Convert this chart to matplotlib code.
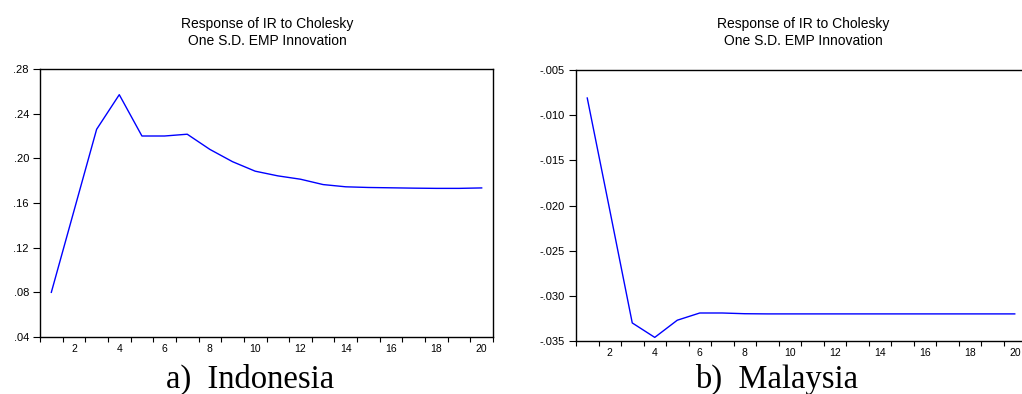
import matplotlib.pyplot as plt
import numpy as np
from matplotlib.ticker import FuncFormatter

periods = list(range(1, 21))
indonesia = [0.080, 0.153, 0.226, 0.257, 0.220, 0.220, 0.2216, 0.208, 0.197, 0.1885,
             0.1843, 0.1813, 0.1765, 0.1745, 0.1739, 0.1736, 0.1733, 0.1731, 0.1731, 0.1735]
malaysia = [-0.0081, -0.0205, -0.0330, -0.0346, -0.0327, -0.0319, -0.0319, -0.03198, -0.0320, -0.0320,
            -0.0320, -0.0320, -0.0320, -0.0320, -0.0320, -0.0320, -0.0320, -0.0320, -0.0320, -0.0320]
title_lines = ['Response of IR to Cholesky', 'One S.D. EMP Innovation']
captions = ['a)  Indonesia', 'b)  Malaysia']

plt.rcParams['font.family'] = ['Liberation Sans', 'DejaVu Sans']

W, H = 1022, 394
fig = plt.figure(figsize=(W/100, H/100), dpi=100)

def nolead(v, nd):
    return f'{v:.{nd}f}'.replace('0.', '.', 1)

def panel(rect, y, ylim, yticks, nd, title_x, caption, cap_x):
    l, t, r, b = rect
    ax = fig.add_axes([l/W, 1-b/H, (r-l)/W, (b-t)/H])
    ax.plot(periods, y, color='#0000ff', lw=1)
    ax.set_xlim(0.5, 20.5)
    ax.set_ylim(*ylim)
    ax.set_yticks(yticks)
    ax.yaxis.set_major_formatter(FuncFormatter(lambda v, p: nolead(v, nd)))
    # eviews style: ticks between periods, labels on even periods
    ax.set_xticks(np.arange(0.5, 21, 1))
    ax.set_xticklabels([])
    ax.set_xticks(range(2, 21, 2), minor=True)
    ax.set_xticklabels([str(i) for i in range(2, 21, 2)], minor=True)
    ax.tick_params(axis='x', which='major', length=3.5, width=0.8, direction='out')
    ax.tick_params(axis='x', which='minor', length=0, labelsize=7.5, pad=5)
    ax.tick_params(axis='y', length=5, width=0.8, labelsize=8, pad=3)
    for s in ax.spines.values():
        s.set_linewidth(1)
    fig.text(title_x/W, 1-28/H, title_lines[0], ha='center', va='baseline', fontsize=10)
    fig.text(title_x/W, 1-45/H, title_lines[1], ha='center', va='baseline', fontsize=10)
    fig.text(cap_x/W, 1-388/H, caption, ha='center', va='baseline',
             fontsize=23.5, family=['Liberation Serif', 'DejaVu Serif'])
    return ax

panel((40, 69, 493, 337), indonesia, (0.04, 0.28), np.arange(0.04, 0.281, 0.04), 2,
      267, captions[0], 250)
panel((576, 70, 1026, 341), malaysia, (-0.035, -0.005), np.arange(-0.035, -0.0049, 0.005), 3,
      803, captions[1], 777)

fig.savefig('out.png', dpi=100)
